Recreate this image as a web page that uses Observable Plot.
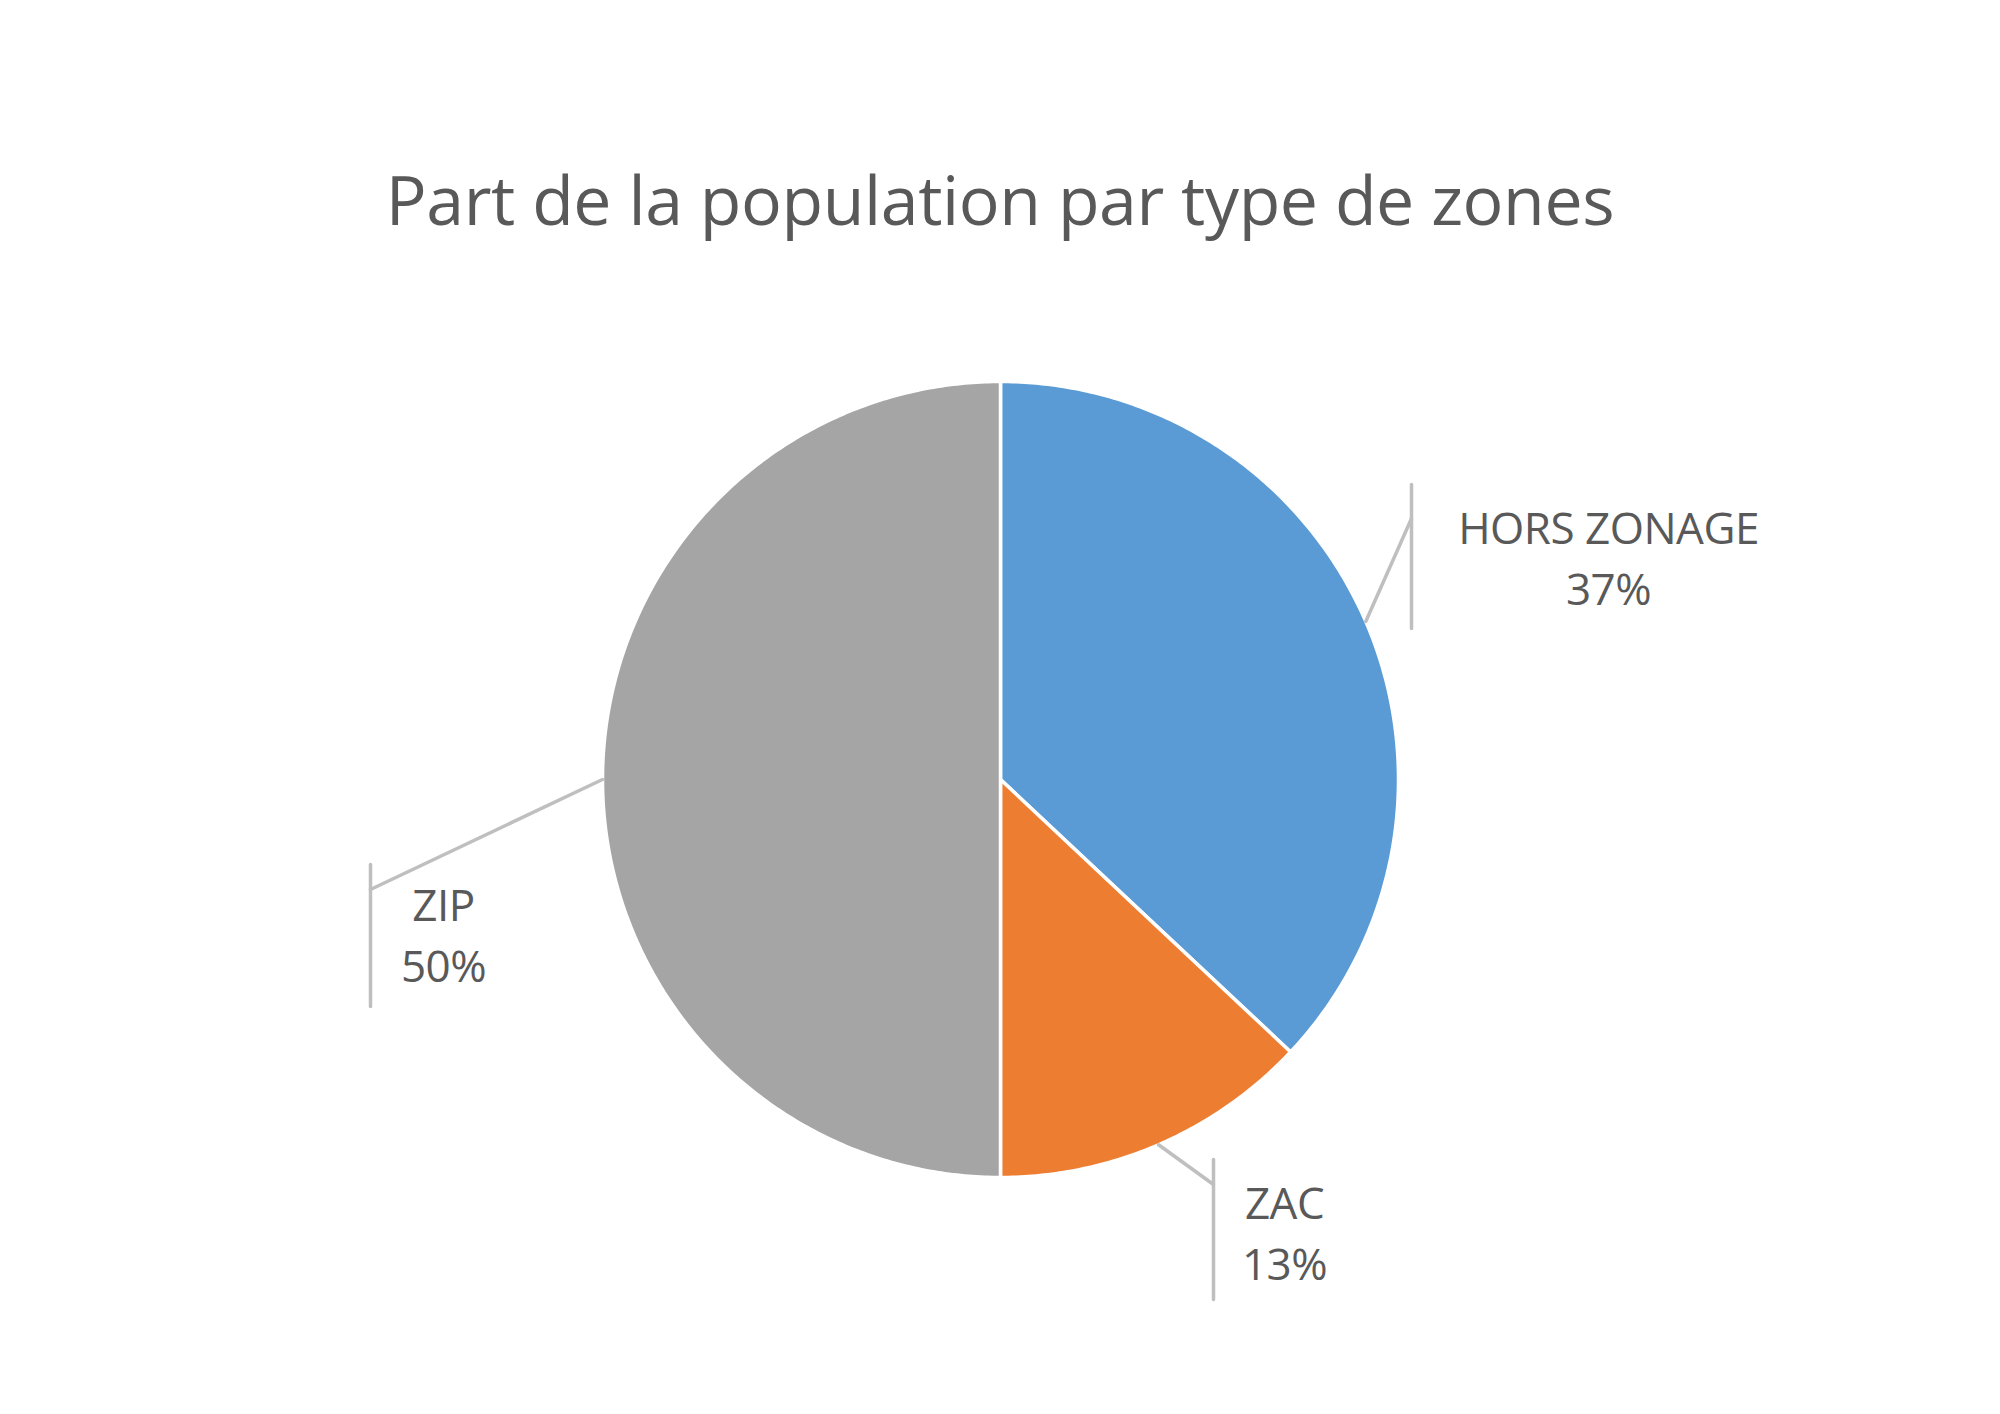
<!DOCTYPE html>
<html>
<head>
<meta charset="utf-8">
<script src="https://cdn.jsdelivr.net/npm/d3@7"></script>
<script src="https://cdn.jsdelivr.net/npm/@observablehq/plot@0.6"></script>
<style>
  html, body { margin: 0; padding: 0; background: #fff; }
  #wrap { width: 2000px; height: 1414px; position: relative; overflow: hidden; }
  #title { position: relative; height: 300px; width: 2000px; }
  #title span { position: absolute; left: 0; width: 2000px; text-align: center; top: 164px;
    font-family: "Open Sans", sans-serif; font-size: 68px; line-height: 70px; color: #595959; white-space: nowrap;
    letter-spacing: -0.4px; }
</style>
</head>
<body>
<div id="wrap">
  <div id="title"><span>Part de la population par type de zones</span></div>
  <div id="chart"></div>
</div>
<script>
// ---- data ----
const categories = ["HORS ZONAGE", "ZAC", "ZIP"];
const shares = [37, 13, 50];
const colors = ["#5B9BD5", "#ED7D31", "#A5A5A5"];

// ---- layout (pixels relative to pie centre, y up) ----
const W = 2000, H = 1114, CY = 479, R = 398;
const layout = {
  "HORS ZONAGE": { barX: 411, barTop: 295, barBottom: 151, bendY: 261, labelX: 608, baseline: 175 },
  "ZAC":         { barX: 213, barTop: -380, barBottom: -520, bendY: -405, labelX: 284, baseline: -500 },
  "ZIP":         { barX: -630, barTop: -85, barBottom: -227, bendY: -110, labelX: -557, baseline: -202 }
};

const arcs = d3.pie().sort(null)(shares);
const slices = [];
arcs.forEach((a, i) => {
  const cat = categories[i];
  slices.push({cat, x: 0, y: 0});
  const n = Math.max(2, Math.ceil((a.endAngle - a.startAngle) / 0.01));
  for (let k = 0; k <= n; ++k) {
    const t = a.startAngle + (a.endAngle - a.startAngle) * k / n;
    slices.push({cat, x: R * Math.sin(t), y: R * Math.cos(t)});
  }
});

const leaders = [];
const labels = [];
arcs.forEach((a, i) => {
  const cat = categories[i];
  const L = layout[cat];
  const m = (a.startAngle + a.endAngle) / 2;
  leaders.push({id: cat + "-d", x: R * Math.sin(m), y: R * Math.cos(m)});
  leaders.push({id: cat + "-d", x: L.barX, y: L.bendY});
  leaders.push({id: cat + "-v", x: L.barX, y: L.barTop});
  leaders.push({id: cat + "-v", x: L.barX, y: L.barBottom});
  labels.push({text: cat + "\n" + shares[i] + "%", x: L.labelX, y: L.baseline});
});

const chart = Plot.plot({
  width: W, height: H,
  margin: 0,
  x: {domain: [-W / 2, W / 2], range: [0, W], axis: null},
  y: {domain: [-(H - CY), CY], range: [H, 0], axis: null},
  color: {domain: categories, range: colors},
  style: {background: "white", fontFamily: "'Open Sans', sans-serif"},
  marks: [
    Plot.line(slices, {x: "x", y: "y", z: "cat", fill: "cat", stroke: "white", strokeWidth: 3.5, curve: "linear-closed"}),
    Plot.line(leaders, {x: "x", y: "y", z: "id", stroke: "#BFBFBF", strokeWidth: 3.5}),
    Plot.text(labels, {x: "x", y: "y", text: "text", fontSize: 44, lineHeight: 61 / 44, lineAnchor: "bottom",
      textAnchor: "middle", fill: "#595959", letterSpacing: "-0.5px"})
  ]
});
chart.querySelectorAll("text").forEach(t => t.setAttribute("letter-spacing", "-0.5"));
document.getElementById("chart").appendChild(chart);
</script>
</body>
</html>
